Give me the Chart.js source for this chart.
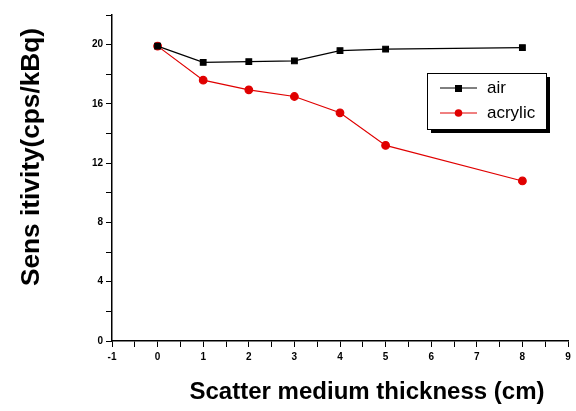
<!DOCTYPE html>
<html><head><meta charset="utf-8">
<script src="https://cdn.jsdelivr.net/npm/chart.js@4"></script>
<style>html,body{margin:0;padding:0;background:#fff}#wrap{width:576px;height:411px}</style>
</head><body><div id="wrap"><canvas id="c" width="576" height="411"></canvas></div>
<script>
const thickness = [0, 1, 2, 3, 4, 5, 8];
const airValues = [19.9, 18.8, 18.85, 18.9, 19.6, 19.7, 19.8];
const acrylicValues = [19.9, 17.6, 16.95, 16.5, 15.4, 13.2, 10.8];
const seriesNames = ["air", "acrylic"];
const xTitle = "Scatter medium thickness (cm)";
const yTitle = "Sens itivity(cps/kBq)";

const toPts = (xs, ys) => xs.map((x, i) => ({x: x, y: ys[i]}));

function fitText(ctx, text, cx, cy, width) {
  const w = ctx.measureText(text).width;
  ctx.save();
  ctx.translate(cx, cy);
  ctx.scale(width / w, 1);
  ctx.fillText(text, 0, 0);
  ctx.restore();
}

const overlay = {
  id: 'overlay',
  afterDraw(chart) {
    const ctx = chart.ctx;
    ctx.save();
    ctx.fillStyle = '#000';
    ctx.textAlign = 'center';
    ctx.textBaseline = 'middle';
    ctx.font = 'bold 23px Arial, "Liberation Sans"';
    fitText(ctx, xTitle, 367, 393, 355);
    ctx.translate(32, 157);
    ctx.rotate(-Math.PI / 2);
    ctx.font = 'bold 25px Arial, "Liberation Sans"';
    fitText(ctx, yTitle, 0, 0, 258);
    ctx.restore();

    // legend box
    ctx.save();
    const bx = 427, by = 73, bw = 119, bh = 56;
    ctx.fillStyle = '#000';
    ctx.fillRect(bx + 4, by + 4, bw, bh);
    ctx.fillStyle = '#fff';
    ctx.fillRect(bx, by, bw, bh);
    ctx.strokeStyle = '#000';
    ctx.lineWidth = 1;
    ctx.strokeRect(bx + 0.5, by + 0.5, bw, bh);
    const rows = [
      {name: seriesNames[0], color: '#000', y: 88, shape: 'rect'},
      {name: seriesNames[1], color: '#e00000', y: 113, shape: 'circle'}
    ];
    ctx.font = '17px Arial, "Liberation Sans"';
    ctx.textAlign = 'left';
    ctx.textBaseline = 'middle';
    rows.forEach(r => {
      ctx.strokeStyle = r.color;
      ctx.beginPath();
      ctx.moveTo(440, r.y); ctx.lineTo(477, r.y); ctx.stroke();
      ctx.fillStyle = r.color;
      if (r.shape === 'rect') ctx.fillRect(455, r.y - 3, 7, 7);
      else { ctx.beginPath(); ctx.arc(458.5, r.y, 3.8, 0, Math.PI * 2); ctx.fill(); }
      ctx.fillStyle = '#000';
      ctx.fillText(r.name, 487, r.y);
    });
    ctx.restore();
  }
};

new Chart(document.getElementById('c'), {
  type: 'scatter',
  data: {
    datasets: [
      {label: seriesNames[0], data: toPts(thickness, airValues), showLine: true,
       borderColor: '#000', backgroundColor: '#000', borderWidth: 1.2,
       pointStyle: 'rect', pointRadius: 4, pointHoverRadius: 4},
      {label: seriesNames[1], data: toPts(thickness, acrylicValues), showLine: true,
       borderColor: '#e00000', backgroundColor: '#e00000', borderWidth: 1.2,
       pointStyle: 'circle', pointRadius: 3.8, pointHoverRadius: 3.8}
    ]
  },
  options: {
    responsive: false, animation: false,
    layout: {padding: {left: 0, right: 8, top: 15, bottom: 0}},
    plugins: {legend: {display: false}, tooltip: {enabled: false}},
    scales: {
      x: {
        type: 'linear', min: -1, max: 9,
        afterFit(s) { s.height = 70; },
        border: {color: '#000', width: 1.5},
        grid: {drawOnChartArea: false, color: '#000', tickLength: 6, lineWidth: 1},
        ticks: {stepSize: 0.5, autoSkip: false, maxRotation: 0, color: '#000', padding: 4,
          font: {family: 'Arial, "Liberation Sans"', size: 10, weight: 'bold'},
          callback: v => Number.isInteger(v) ? String(v) : ''}
      },
      y: {
        min: 0, max: 22,
        afterFit(s) { s.width = 112; },
        border: {color: '#000', width: 1.5},
        grid: {drawOnChartArea: false, color: '#000', tickLength: 6, lineWidth: 1},
        ticks: {stepSize: 2, autoSkip: false, color: '#000', padding: 3,
          font: {family: 'Arial, "Liberation Sans"', size: 10, weight: 'bold'},
          callback: v => (v % 4 === 0 && v <= 20) ? String(v) : ''}
      }
    }
  },
  plugins: [overlay]
});
</script></body></html>
